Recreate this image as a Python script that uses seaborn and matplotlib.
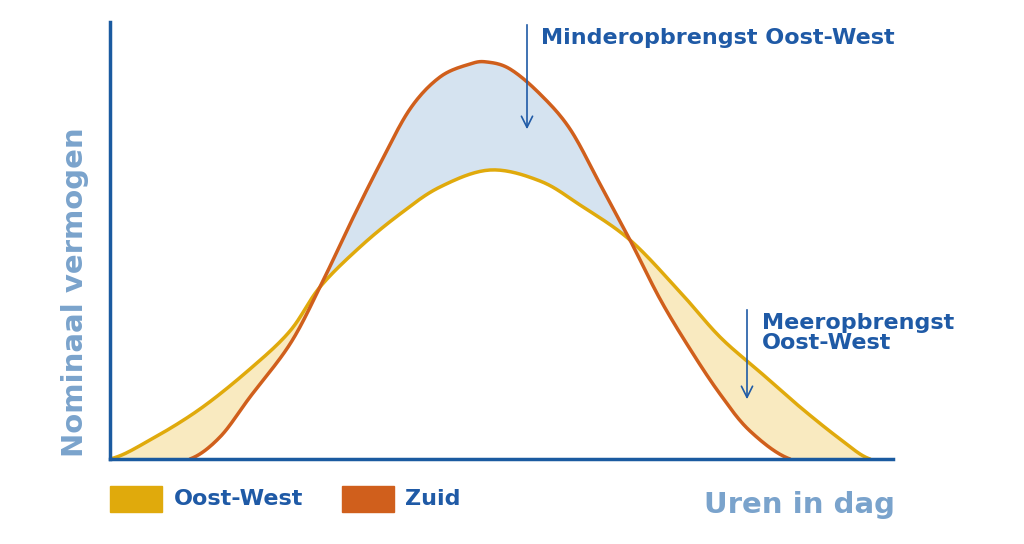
import numpy as np
import matplotlib
matplotlib.use("Agg")
import matplotlib.pyplot as plt
import seaborn as sns
import pandas as pd

# Values (x: position along day, y: nominal power)
ow_x = [110, 150, 200, 250, 290, 320, 360, 400, 440, 490, 540, 580, 630, 680, 720, 760, 800, 840, 870]
ow_y = [0, 19, 50, 90, 128, 172, 212, 245, 272, 289, 278, 254, 219, 167, 122, 87, 52, 20, 0]
zu_x = [190, 220, 250, 290, 320, 350, 380, 410, 440, 470, 487, 510, 540, 570, 600, 630, 660, 690, 720, 750, 790]
zu_y = [0, 22, 62, 115, 172, 235, 295, 350, 382, 395, 397, 390, 365, 330, 275, 219, 160, 110, 65, 28, 0]


def smooth(xs, ys, n=20):
    # Catmull-Rom rendering of the read points
    xs = np.asarray(xs, float); ys = np.asarray(ys, float)
    px = np.concatenate([[2*xs[0]-xs[1]], xs, [2*xs[-1]-xs[-2]]])
    py = np.concatenate([[ys[0]], ys, [ys[-1]]])
    ox, oy = [], []
    t = np.linspace(0, 1, n, endpoint=False)
    for i in range(1, len(px)-2):
        for P, out in ((px, ox), (py, oy)):
            p0, p1, p2, p3 = P[i-1], P[i], P[i+1], P[i+2]
            out.extend(0.5*((2*p1) + (-p0+p2)*t + (2*p0-5*p1+4*p2-p3)*t**2 + (-p0+3*p1-3*p2+p3)*t**3))
    ox.append(xs[-1]); oy.append(ys[-1])
    return np.array(ox), np.clip(np.array(oy), 0, None)


sns.set_theme(style="white")
plt.rcParams['font.family'] = ['DejaVu Sans']
fig = plt.figure(figsize=(10.24, 5.44), dpi=100)
ax = fig.add_axes([110/1024, 1-459/544, (893-110)/1024, (459-22)/544])

sox, soy = smooth(ow_x, ow_y)
szx, szy = smooth(zu_x, zu_y)
gx = np.linspace(110, 870, 1500)
g_ow = np.interp(gx, sox, soy)
g_zu = np.interp(gx, szx, szy, left=0, right=0)
ax.fill_between(gx, g_ow, g_zu, where=g_zu >= g_ow, color="#d5e3f0", interpolate=True, lw=0)
ax.fill_between(gx, g_ow, g_zu, where=g_ow >= g_zu, color="#f9eac0", interpolate=True, lw=0)

sns.lineplot(data=pd.DataFrame({"x": sox, "y": soy}), x="x", y="y", ax=ax, color="#e0aa0c", lw=2.5, sort=False)
sns.lineplot(data=pd.DataFrame({"x": szx, "y": szy}), x="x", y="y", ax=ax, color="#d05f1c", lw=2.5, sort=False)

ax.set_xlim(110, 893)
ax.set_ylim(0, 437)
ax.set_xticks([]); ax.set_yticks([])
ax.set_xlabel(""); ax.set_ylabel("")
for s in ["top", "right"]:
    ax.spines[s].set_visible(False)
for s in ["left", "bottom"]:
    ax.spines[s].set_color("#1a5aa0"); ax.spines[s].set_linewidth(2.5)

blue = "#1f5aa6"
ax.annotate("", xy=(527, 327), xytext=(527, 437), arrowprops=dict(arrowstyle="->", color=blue, lw=1.2, mutation_scale=20))
ax.annotate("", xy=(747, 57), xytext=(747, 152), arrowprops=dict(arrowstyle="->", color=blue, lw=1.2, mutation_scale=20))
fig.text(541/1024, 1-38/544, "Minderopbrengst Oost-West", color=blue, fontsize=16, fontweight="bold", va="center")
fig.text(762/1024, 1-333/544, "Meeropbrengst\nOost-West", color=blue, fontsize=16, fontweight="bold", va="center", linespacing=0.95)

fig.text(75/1024, 1-292/544, "Nominaal vermogen", color="#7aa3cc", fontsize=21, fontweight="bold", rotation=90, va="center", ha="center")
fig.text(895/1024, 1-505/544, "Uren in dag", color="#7aa3cc", fontsize=21, fontweight="bold", ha="right", va="center")

fig.patches.append(plt.Rectangle((110/1024, 1-512/544), 52/1024, 26/544, transform=fig.transFigure, color="#e0aa0c"))
fig.patches.append(plt.Rectangle((342/1024, 1-512/544), 52/1024, 26/544, transform=fig.transFigure, color="#d05f1c"))
fig.text(174/1024, 1-499/544, "Oost-West", color=blue, fontsize=16, fontweight="bold", va="center")
fig.text(405/1024, 1-499/544, "Zuid", color=blue, fontsize=16, fontweight="bold", va="center")

fig.savefig("out.png", dpi=100)
